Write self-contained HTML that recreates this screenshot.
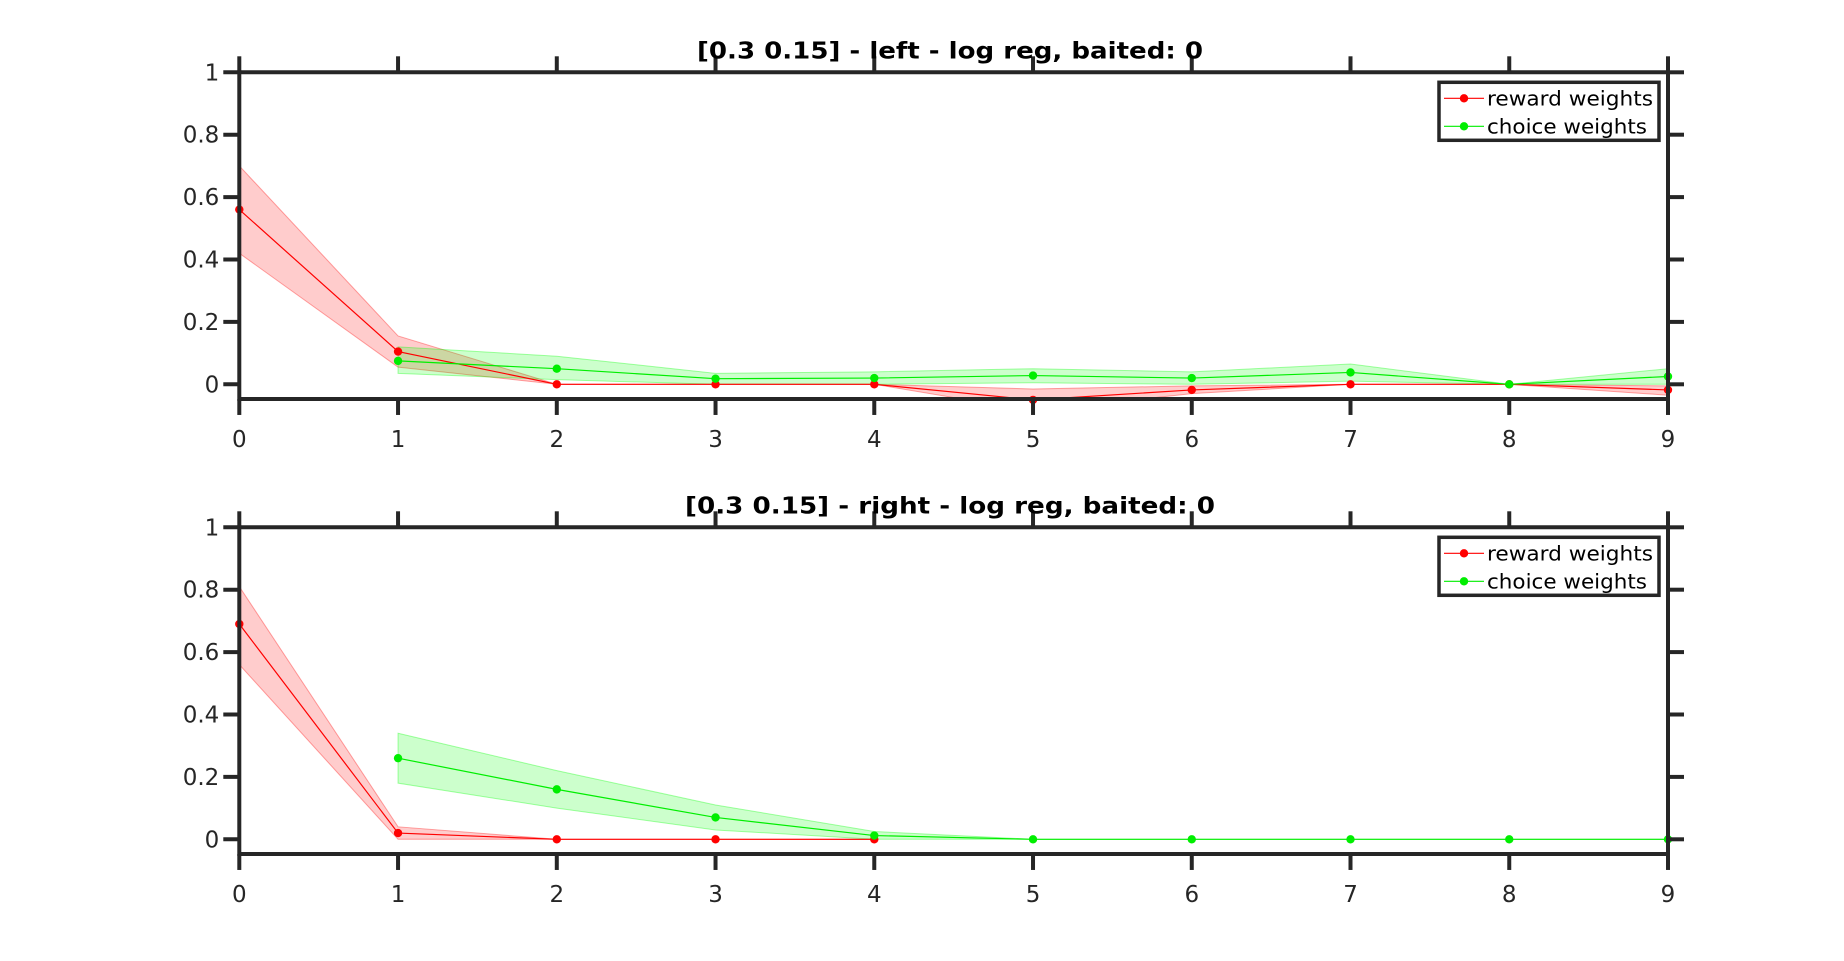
<!DOCTYPE html>
<html><head><meta charset="utf-8"><style>
html,body{margin:0;padding:0;background:#fff;}
svg{display:block;font-family:"DejaVu Sans","Liberation Sans",sans-serif;}
</style></head><body>
<svg id="chart" width="1844" height="961" viewBox="0 0 1844 961" xmlns="http://www.w3.org/2000/svg"></svg>
<script>
const lags = [0,1,2,3,4,5,6,7,8,9];
const xTicks = ['0','1','2','3','4','5','6','7','8','9'];
const yTicks = [0,0.2,0.4,0.6,0.8,1];
const yTickLabels = ['0','0.2','0.4','0.6','0.8','1'];
// top panel
const topRewardX = [0,1,2,3,4,5,6,7,8,9];
const topReward = [0.56,0.105,0,0,0,-0.05,-0.018,0,0,-0.018];
const topRewardHi = [0.70,0.155,0,0,0,-0.015,-0.005,0,0,-0.005];
const topRewardLo = [0.42,0.055,0,0,0,-0.085,-0.03,0,0,-0.035];
const topChoiceX = [1,2,3,4,5,6,7,8,9];
const topChoice = [0.075,0.05,0.018,0.02,0.028,0.02,0.038,0,0.025];
const topChoiceHi = [0.12,0.09,0.035,0.04,0.05,0.04,0.065,0,0.05];
const topChoiceLo = [0.035,0.015,0,0,0.005,0,0.01,0,0];
// bottom panel
const botRewardX = [0,1,2,3,4];
const botReward = [0.69,0.02,0,0,0];
const botRewardHi = [0.81,0.04,0,0,0];
const botRewardLo = [0.56,0,0,0,0];
const botChoiceX = [1,2,3,4,5,6,7,8,9];
const botChoice = [0.26,0.16,0.07,0.012,0,0,0,0,0];
const botChoiceHi = [0.34,0.22,0.11,0.025,0,0,0,0,0];
const botChoiceLo = [0.18,0.10,0.03,0,0,0,0,0,0];

const svg = document.getElementById('chart');
const NS = 'http://www.w3.org/2000/svg';
function mk(tag, attrs, parent){const e=document.createElementNS(NS,tag);for(const k in attrs)e.setAttribute(k,attrs[k]);(parent||svg).appendChild(e);return e;}

const X0=239.3, X9=1668, YMIN=-0.047, YMAX=1;
function panel(id, top, title, tlen, rX, r, rHi, rLo, cX, c, cHi, cLo){
  const y1=top, y0=top+312;
  const sx=v=>X0+(X9-X0)*v/9;
  const sy=v=>y0-(y0-y1)*v;
  const yb=sy(YMIN);
  const g=mk('g',{});
  
  
  const clipId='clip-'+id;
  const cp=mk('clipPath',{id:clipId},g);
  mk('rect',{x:sx(0),y:y1,width:sx(9)-sx(0),height:yb-y1},cp);
  const plot=mk('g',{'clip-path':'url(#'+clipId+')'},g);
  function band(xs,hi,lo,fill,stroke,name){
    let d='M'+xs.map((x,i)=>sx(x)+','+sy(hi[i])).join(' L');
    for(let i=xs.length-1;i>=0;i--) d+=' L'+sx(xs[i])+','+sy(lo[i]);
    const p=mk('path',{d:d+'Z',fill:fill,'fill-opacity':0.2,stroke:stroke,'stroke-opacity':0.35,'stroke-width':1},plot);
    
    
  }
  function series(xs,vs,col,name){
    const pl=mk('polyline',{points:xs.map((x,i)=>sx(x)+','+sy(vs[i])).join(' '),fill:'none',stroke:col,'stroke-width':1.2},plot);
    
    
    xs.forEach((x,i)=>{
      const ci=mk('circle',{cx:sx(x),cy:sy(vs[i]),r:4.2,fill:col},g);
      
      
    });
  }
  band(rX,rHi,rLo,'#ff0000','#ff0000','reward-band');
  band(cX,cHi,cLo,'#00ff00','#00ff00','choice-band');
  series(rX,r,'#ff0000','reward');
  series(cX,c,'#00ee00','choice');
  const ax='#262626';
  const a=mk('g',{stroke:ax,'stroke-width':4,fill:'none'},g);
  
  
  mk('line',{x1:sx(0),y1:y1,x2:sx(9),y2:y1},a);
  mk('line',{x1:sx(0),y1:yb,x2:sx(9),y2:yb},a);
  mk('line',{x1:sx(0),y1:y1-2,x2:sx(0),y2:yb+2},a);
  mk('line',{x1:sx(9),y1:y1-2,x2:sx(9),y2:yb+2},a);
  lags.forEach((v,i)=>{
    mk('line',{x1:sx(v),y1:y1,x2:sx(v),y2:y1-16},a);
    mk('line',{x1:sx(v),y1:yb,x2:sx(v),y2:yb+16},a);
    const t=mk('text',{x:sx(v),y:yb+48,'text-anchor':'middle','font-size':23,fill:ax},g);
    t.textContent=xTicks[i];
    
    
  });
  yTicks.forEach((v,i)=>{
    mk('line',{x1:sx(0),y1:sy(v),x2:sx(0)-16,y2:sy(v)},a);
    mk('line',{x1:sx(9),y1:sy(v),x2:sx(9)+16,y2:sy(v)},a);
    const t=mk('text',{x:sx(0)-20,y:sy(v)+8,'text-anchor':'end','font-size':23,fill:ax},g);
    t.textContent=yTickLabels[i];
    
    
  });
  const tt=mk('text',{x:950,y:top-14,'text-anchor':'middle','font-size':23,'font-weight':'bold',fill:'#000',textLength:tlen,lengthAdjust:'spacingAndGlyphs'},g);
  tt.textContent=title;
  
  
  const lg=mk('g',{},g);
  
  
  mk('rect',{x:1439,y:top+10,width:220,height:58,fill:'#fff',stroke:ax,'stroke-width':3.5},lg);
  [['reward weights','#ff0000',26],['choice weights','#00ee00',54]].forEach(([lab,col,dy])=>{
    const e=mk('g',{},lg);
    
    
    mk('line',{x1:1444,y1:top+dy,x2:1484,y2:top+dy,stroke:col,'stroke-width':1.2},e);
    mk('circle',{cx:1464,cy:top+dy,r:4.2,fill:col},e);
    const t=mk('text',{x:1487,y:top+dy+7,'font-size':20,fill:'#000',textLength:lab==='reward weights'?166:160,lengthAdjust:'spacingAndGlyphs'},e);
    t.textContent=lab;
  });
}
panel('left', 72.3, '[0.3 0.15] - left - log reg, baited: 0', 506, topRewardX, topReward, topRewardHi, topRewardLo, topChoiceX, topChoice, topChoiceHi, topChoiceLo);
panel('right', 527.3, '[0.3 0.15] - right - log reg, baited: 0', 530, botRewardX, botReward, botRewardHi, botRewardLo, botChoiceX, botChoice, botChoiceHi, botChoiceLo);
</script>
</body></html>
